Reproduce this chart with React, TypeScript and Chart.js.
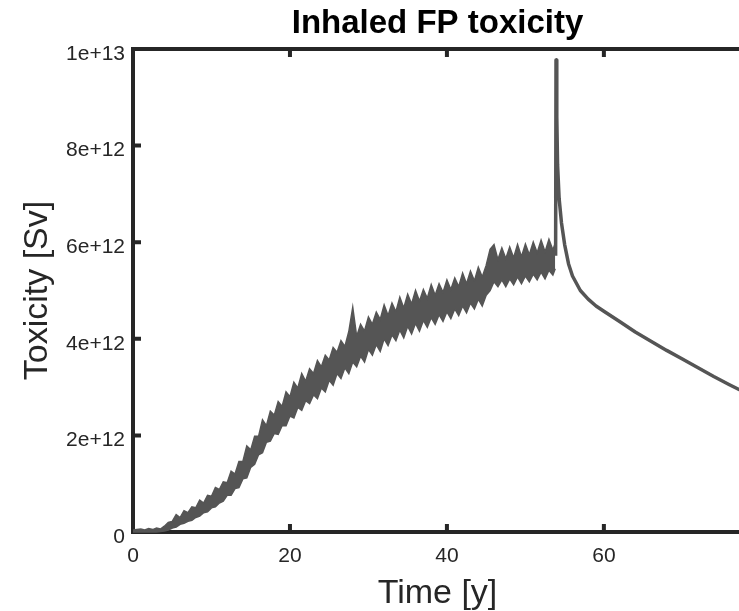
import React, { useEffect, useRef } from "react";
import { Chart, registerables } from "chart.js";

Chart.register(...registerables);

const SCALE = 1e12;

// Time [y] for the oscillating band (before the spike)
const bandTime = [
  0, 0.5, 1, 1.5, 2, 2.5, 3, 3.5, 4, 4.5,
  5, 5.5, 6, 6.5, 7, 7.5, 8, 8.5, 9, 9.5,
  10, 10.5, 11, 11.5, 12, 12.5, 13, 13.5, 14, 14.5,
  15, 15.5, 16, 16.5, 17, 17.5, 18, 18.5, 19, 19.5,
  20, 20.5, 21, 21.5, 22, 22.5, 23, 23.5, 24, 24.5,
  25, 25.5, 26, 26.5, 27, 27.5, 28, 28.5, 29, 29.5,
  30, 30.5, 31, 31.5, 32, 32.5, 33, 33.5, 34, 34.5,
  35, 35.5, 36, 36.5, 37, 37.5, 38, 38.5, 39, 39.5,
  40, 40.5, 41, 41.5, 42, 42.5, 43, 43.5, 44, 44.5,
  45, 45.5, 46, 46.5, 47, 47.5, 48, 48.5, 49, 49.5,
  50, 50.5, 51, 51.5, 52, 52.5, 53, 53.5, 53.8,
];

// Upper edge of the band [1e12 Sv]
const bandUpper = [
  0.04, 0.05, 0.06, 0.04, 0.07, 0.05, 0.08, 0.06, 0.12, 0.2,
  0.22, 0.36, 0.3, 0.44, 0.4, 0.52, 0.5, 0.66, 0.6, 0.76,
  0.74, 0.92, 0.88, 1.04, 1.02, 1.26, 1.2, 1.46, 1.46, 1.78,
  1.7, 1.98, 1.98, 2.32, 2.2, 2.5, 2.42, 2.7, 2.6, 2.9,
  2.8, 3.1, 2.98, 3.28, 3.12, 3.38, 3.28, 3.55, 3.42, 3.66,
  3.56, 3.82, 3.72, 3.96, 3.84, 4.15, 4.65, 4.05, 4.3, 4.16,
  4.45, 4.3, 4.55, 4.4, 4.7, 4.48, 4.74, 4.56, 4.86, 4.64,
  4.92, 4.72, 5.0, 4.78, 5.02, 4.84, 5.12, 4.9, 5.14, 4.96,
  5.22, 5.02, 5.26, 5.08, 5.36, 5.14, 5.4, 5.2, 5.48, 5.28,
  5.52, 5.85, 5.95, 5.64, 5.88, 5.66, 5.9, 5.68, 5.95, 5.7,
  5.96, 5.74, 6.0, 5.78, 6.04, 5.8, 6.06, 5.84, 5.98,
];

// Lower edge of the band [1e12 Sv]
const bandLower = [
  0, 0, 0, 0, 0, 0, 0, 0.01, 0.02, 0.04,
  0.08, 0.1, 0.16, 0.18, 0.22, 0.24, 0.3, 0.33, 0.4, 0.42,
  0.5, 0.52, 0.6, 0.64, 0.76, 0.76, 0.9, 0.92, 1.1, 1.12,
  1.34, 1.4, 1.6, 1.64, 1.86, 1.88, 2.04, 2.02, 2.2, 2.2,
  2.4, 2.36, 2.58, 2.52, 2.72, 2.66, 2.84, 2.76, 2.98, 2.9,
  3.14, 3.04, 3.28, 3.18, 3.4, 3.28, 3.52, 3.42, 3.64, 3.52,
  3.78, 3.66, 3.88, 3.74, 4.0, 3.86, 4.08, 3.96, 4.18, 4.02,
  4.26, 4.1, 4.32, 4.16, 4.38, 4.24, 4.44, 4.3, 4.5, 4.36,
  4.56, 4.42, 4.62, 4.48, 4.68, 4.54, 4.74, 4.62, 4.82, 4.68,
  4.9, 5.0, 5.18, 5.08, 5.22, 5.08, 5.24, 5.12, 5.28, 5.14,
  5.3, 5.18, 5.34, 5.22, 5.38, 5.24, 5.42, 5.32, 5.45,
];

// Spike and decay after shutdown
const decayTime = [
  53.85, 53.9, 54.0, 54.1, 54.3, 54.6, 55.0, 55.5, 56, 57, 58, 59, 60,
  62, 64, 66, 68, 70, 72, 74, 76, 77.6,
];
const decayValue = [
  5.72, 9.77, 8.6, 7.6, 6.9, 6.4, 5.95, 5.55, 5.3, 5.0, 4.82, 4.68, 4.57,
  4.36, 4.14, 3.95, 3.76, 3.58, 3.4, 3.22, 3.05, 2.92,
];

const xTickValues = [0, 20, 40, 60];
const xTickLabels = ["0", "20", "40", "60"];
const yTickValues = [0, 2, 4, 6, 8, 10];
const yTickLabels = ["0", "2e+12", "4e+12", "6e+12", "8e+12", "1e+13"];

const X_MAX = 77.6;
const FONT = "'Liberation Sans', Arial, Helvetica, sans-serif";
const AXIS = "#262626";
const LINE = "#555555";

const boxPlugin = {
  id: "boxTicks",
  beforeDatasetsDraw(chart: any) {
    const { ctx, chartArea: a, scales } = chart;
    ctx.save();
    ctx.strokeStyle = AXIS;
    ctx.lineWidth = 4;
    ctx.lineCap = "butt";
    ctx.strokeRect(a.left, a.top, a.right - a.left, a.bottom - a.top);
    const L = 8;
    ctx.beginPath();
    xTickValues.forEach((v) => {
      const px = scales.x.getPixelForValue(v);
      ctx.moveTo(px, a.bottom);
      ctx.lineTo(px, a.bottom - L);
      ctx.moveTo(px, a.top);
      ctx.lineTo(px, a.top + L);
    });
    yTickValues.forEach((v) => {
      const py = scales.y.getPixelForValue(v * SCALE);
      ctx.moveTo(a.left, py);
      ctx.lineTo(a.left + L, py);
    });
    ctx.stroke();
    ctx.restore();
  },
};

export default function App() {
  const ref = useRef<HTMLCanvasElement | null>(null);

  useEffect(() => {
    if (!ref.current) return;
    const upper = bandTime.map((t, i) => ({ x: t, y: bandUpper[i] * SCALE }));
    const lower = bandTime.map((t, i) => ({ x: t, y: bandLower[i] * SCALE }));
    const decay = decayTime.map((t, i) => ({ x: t, y: decayValue[i] * SCALE }));

    const chart = new Chart(ref.current, {
      type: "line",
      data: {
        datasets: [
          {
            label: "upper",
            data: upper,
            borderColor: LINE,
            backgroundColor: LINE,
            borderWidth: 1.5,
            pointRadius: 0,
            tension: 0,
            fill: "+1",
            clip: false as any,
          },
          {
            label: "lower",
            data: lower,
            borderColor: LINE,
            backgroundColor: LINE,
            borderWidth: 1.5,
            pointRadius: 0,
            tension: 0,
            fill: false,
            clip: false as any,
          },
          {
            label: "decay",
            data: decay,
            borderColor: LINE,
            borderWidth: 3.5,
            pointRadius: 0,
            tension: 0,
            fill: false,
            borderJoinStyle: "round",
            clip: false as any,
          },
        ],
      },
      options: {
        animation: false,
        responsive: false,
        devicePixelRatio: 1,
        layout: { padding: { left: 0, top: 0, right: 18, bottom: 0 } },
        plugins: {
          legend: { display: false },
          tooltip: { enabled: false },
          title: {
            display: true,
            text: "Inhaled FP toxicity",
            fullSize: false,
            color: "#000000",
            font: { family: FONT, size: 33, weight: "bold", lineHeight: 1.2 },
            padding: { top: 4, bottom: 5.4 },
          },
        },
        scales: {
          x: {
            type: "linear",
            min: 0,
            max: X_MAX,
            afterBuildTicks: (s: any) => {
              s.ticks = xTickValues.map((v) => ({ value: v }));
            },
            afterFit: (s: any) => {
              s.height = 79;
            },
            ticks: {
              callback: (_v: any, i: number) => xTickLabels[i],
              color: AXIS,
              padding: 12,
              maxRotation: 0,
              font: { family: FONT, size: 21 },
            },
            grid: { display: false, drawTicks: false },
            border: { display: false },
            title: {
              display: true,
              text: "Time [y]",
              color: AXIS,
              font: { family: FONT, size: 34, lineHeight: 1.0 },
              padding: { top: 0, bottom: 0 },
            },
          },
          y: {
            type: "linear",
            min: 0,
            max: 10 * SCALE,
            afterBuildTicks: (s: any) => {
              s.ticks = yTickValues.map((v) => ({ value: v * SCALE }));
            },
            afterFit: (s: any) => {
              s.width = 133;
            },
            ticks: {
              callback: (_v: any, i: number) => yTickLabels[i],
              color: AXIS,
              padding: 8,
              labelOffset: 5,
              font: { family: FONT, size: 21 },
            },
            grid: { display: false, drawTicks: false },
            border: { display: false },
            title: {
              display: true,
              text: "Toxicity [Sv]",
              color: AXIS,
              font: { family: FONT, size: 34, lineHeight: 1.2 },
              padding: { top: 17, bottom: 17 },
            },
          },
        },
      },
      plugins: [boxPlugin],
    });
    return () => chart.destroy();
  }, []);

  return (
    <div
      style={{
        position: "absolute",
        left: 0,
        top: 0,
        width: 739,
        height: 611,
        overflow: "hidden",
        background: "#ffffff",
      }}
    >
      <canvas
        ref={ref}
        width={760}
        height={611}
        style={{ width: 760, height: 611, display: "block" }}
      />
    </div>
  );
}
